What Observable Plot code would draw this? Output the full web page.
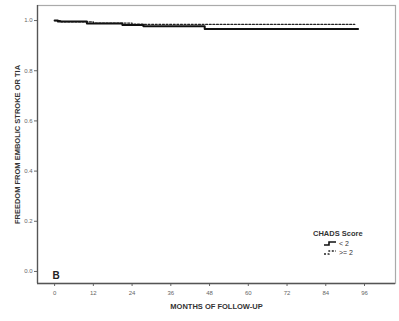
<!DOCTYPE html>
<html><head><meta charset="utf-8">
<script src="https://cdn.jsdelivr.net/npm/d3@7"></script>
<script src="https://cdn.jsdelivr.net/npm/@observablehq/plot@0.6"></script>
<style>
body{margin:0;background:#fff;font-family:"Liberation Sans",Arial,sans-serif;}
#wrap{position:relative;width:399px;height:321px;}
#legend{position:absolute;left:313px;top:229px;font-size:7px;color:#333;line-height:9px;}
#legend .t{font-weight:bold;font-size:7.5px;margin-bottom:1px;}
#legend .row{display:flex;align-items:center;padding-left:11px;}
#legend svg{margin-right:3px;}
</style></head>
<body><div id="wrap"></div>
<script>
const groups = ["< 2", ">= 2"];
const lt2Months = [0, 1, 10, 21, 27.5, 46.5, 94];
const lt2Surv   = [1.0, 0.996, 0.988, 0.982, 0.977, 0.966, 0.966];
const ge2Months = [0, 2, 12, 24, 27.5, 93];
const ge2Surv   = [1.0, 0.995, 0.99, 0.986, 0.985, 0.985];
const xTicks = [0, 12, 24, 36, 48, 60, 72, 84, 96];
const yTicks = [0, 0.2, 0.4, 0.6, 0.8, 1.0];
const legendTitle = "CHADS Score";
const panelLabel = "B";

const lt2 = lt2Months.map((m, i) => ({month: m, surv: lt2Surv[i], g: groups[0]}));
const ge2 = ge2Months.map((m, i) => ({month: m, surv: ge2Surv[i], g: groups[1]}));

const chart = Plot.plot({
  width: 399, height: 321,
  marginLeft: 37, marginRight: 4, marginTop: 5, marginBottom: 38,
  style: {fontFamily: "Liberation Sans, Arial, sans-serif", background: "#fff"},
  x: {domain: [-5.3, 105.6]},
  y: {domain: [-0.048, 1.06]},
  marks: [
    Plot.frame({stroke: "#aaa", strokeWidth: 1.2}),
    Plot.axisX({ticks: xTicks, tickSize: 3, tickPadding: 4, fontSize: 6, color: "#666",
      label: "MONTHS OF FOLLOW-UP", labelAnchor: "center", labelArrow: "none", labelOffset: 25}),
    Plot.axisY({ticks: yTicks, tickSize: 3, tickPadding: 2, fontSize: 6, color: "#666",
      tickFormat: d3.format(".1f"),
      label: "FREEDOM FROM EMBOLIC STROKE OR TIA", labelAnchor: "center", labelArrow: "none", labelOffset: 23}),
    Plot.ruleX([-5.3], {stroke: "#555", strokeWidth: 1.3}),
    Plot.ruleY([-0.048], {stroke: "#555", strokeWidth: 1.3}),
    Plot.line(ge2, {x: "month", y: "surv", curve: "step-after", stroke: "#222", strokeWidth: 1.3, strokeDasharray: "2,1.6"}),
    Plot.line(lt2, {x: "month", y: "surv", curve: "step-after", stroke: "#111", strokeWidth: 2}),
    Plot.text([panelLabel], {frameAnchor: "bottom-left", dx: 15, dy: -5, fontSize: 10, fontWeight: "bold", fill: "#222"})
  ]
});
chart.querySelectorAll('[aria-label="x-axis label"] text, [aria-label="y-axis label"] text').forEach(t => {
  t.setAttribute("font-weight", "bold"); t.setAttribute("font-size", "7.5");
  t.setAttribute("style", "fill:#333;stroke:none");
});
const wrap = document.getElementById("wrap");
wrap.appendChild(chart);

const leg = document.createElement("div");
leg.id = "legend";
leg.innerHTML = `<div class="t">${legendTitle}</div>` +
  `<div class="row"><svg width="12" height="7"><path d="M0,5H5V2H12" fill="none" stroke="#111" stroke-width="1.6"/></svg>${groups[0]}</div>` +
  `<div class="row"><svg width="12" height="7"><path d="M0,5H5V2H12" fill="none" stroke="#222" stroke-width="1.3" stroke-dasharray="2,1.6"/></svg>${groups[1]}</div>`;
wrap.appendChild(leg);
</script></body></html>
